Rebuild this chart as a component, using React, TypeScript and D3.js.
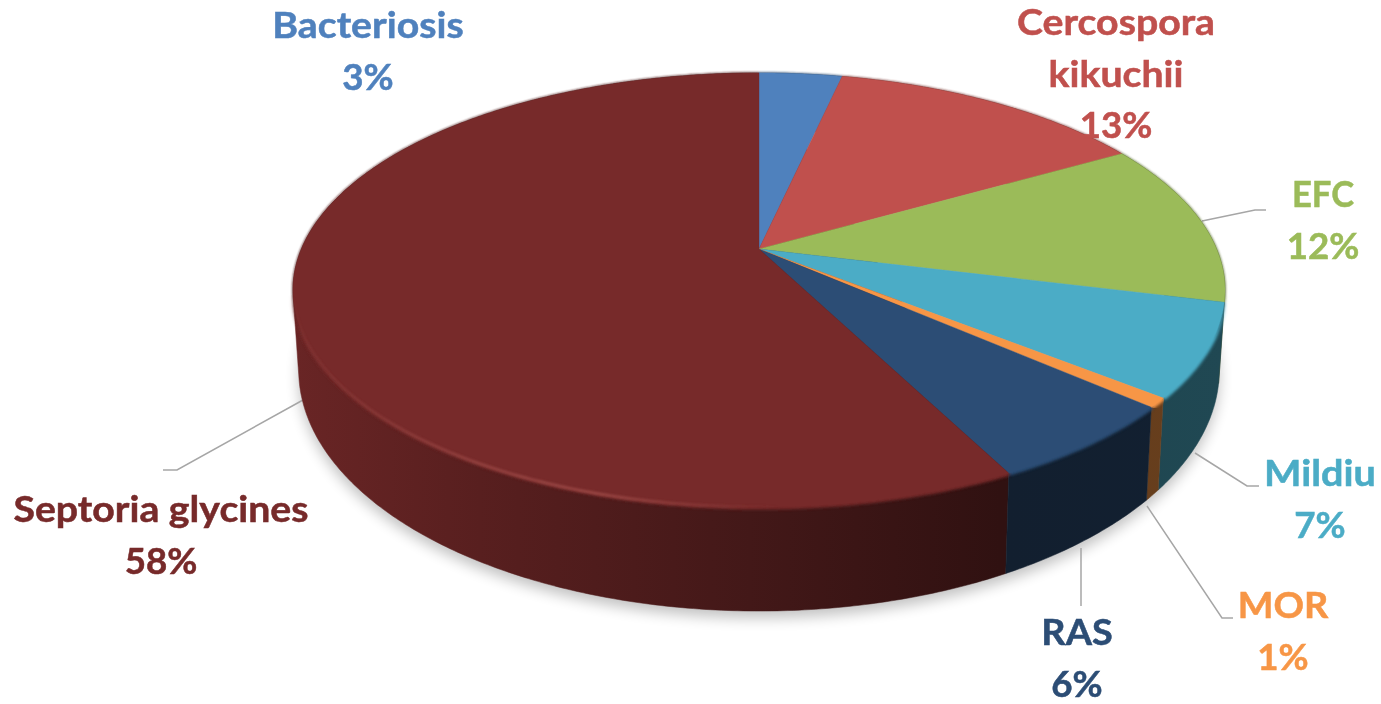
import React from "react";
import * as d3 from "d3";

const names = ["Bacteriosis", "Cercospora kikuchii", "EFC", "Mildiu", "MOR", "RAS", "Septoria glycines"];
const shares = [3.45, 13.25, 12.2, 6.9, 0.7, 6.0, 57.5];
const colours = ["#4f81bd", "#c0504d", "#9bbb59", "#4bacc6", "#f79646", "#2c4d75", "#772a2a"];

const labelLines = [["Bacteriosis"], ["Cercospora", "kikuchii"], ["EFC"], ["Mildiu"], ["MOR"], ["RAS"], ["Septoria glycines"]];

// placement of the annotations (not data)
const labelAnchor = [
  { x: 368, y: 38, sx: 1.09 },
  { x: 1116, y: 35, sx: 1.09 },
  { x: 1323, y: 207, sx: 0.96 },
  { x: 1320, y: 486, sx: 1.1 },
  { x: 1283, y: 618, sx: 1.05 },
  { x: 1077, y: 645.5, sx: 1.05 },
  { x: 161, y: 522, sx: 1.09 },
];
const leaders: ([number, number][] | null)[] = [
  null,
  null,
  [[1202, 221], [1255, 210], [1266, 210]],
  [[1195, 453], [1247, 486], [1259, 486]],
  [[1147, 506], [1222, 618], [1233, 618]],
  [[1081, 548], [1081, 606]],
  [[303, 400], [177, 470], [163, 470]],
];

const W = 1381, H = 704, CX = 759, K = -0.189;
const topFace = { a: 457.6, b: 209.3, c: 249 };
const baseFace = { a: 452, b: 232.4, c: 324.5 };
const project = (f: { a: number; b: number; c: number }, t: number): [number, number] => {
  const x = Math.sin(t), y = -Math.cos(t), d = 1 + K * y;
  return [CX + (f.a * x) / d, f.c + (f.b * y) / d];
};
const arcPoints = (f: any, t0: number, t1: number) => {
  const n = Math.max(2, Math.ceil((t1 - t0) / 0.01));
  return d3.range(n + 1).map((i) => project(f, t0 + ((t1 - t0) * i) / n));
};
const line = d3.line();
const shade = d3.scaleLinear<number>().domain([293, 480, 750, 1000, 1225]).range([0.88, 0.74, 0.56, 0.4, 0.42]);
const darken = (c: string, k: number) => {
  const r = d3.rgb(c);
  return d3.rgb(r.r * k, r.g * k, r.b * k).formatHex();
};

export default function App() {
  const pie = d3.pie<number>().sort(null).startAngle(0).endAngle(2 * Math.PI);
  const arcs = pie(shares);
  const fullBase = line(arcPoints(baseFace, 0, 2 * Math.PI))! + "Z";
  const stopsX = shade.domain();
  const wallOrder = [6, 0, 1, 2, 3, 4, 5];
  return (
    <svg width={W} height={H} viewBox={`0 0 ${W} ${H}`} style={{ position: "absolute", left: 0, top: 0, display: "block", background: "#fff" }}>
      <defs>
        <filter id="shadow" x="-10%" y="-10%" width="120%" height="130%"><feGaussianBlur stdDeviation="7" /></filter>
        <filter id="soft" x="-5%" y="-5%" width="110%" height="110%"><feGaussianBlur stdDeviation="1.6" /></filter>
        <filter id="softer" x="-5%" y="-5%" width="110%" height="110%"><feGaussianBlur stdDeviation="1" /></filter>
        <linearGradient id="frontFade" gradientUnits="userSpaceOnUse" x1="0" y1="295" x2="0" y2="340">
          <stop offset="0" stopColor="#000" />
          <stop offset="1" stopColor="#fff" />
        </linearGradient>
        <mask id="front" maskUnits="userSpaceOnUse" x="0" y="0" width={W} height={H}>
          <rect x="0" y="0" width={W} height={H} fill="url(#frontFade)" />
        </mask>
        <linearGradient id="hi" gradientUnits="userSpaceOnUse" x1="293" y1="0" x2="900" y2="0">
          <stop offset="0" stopColor="#a34f4c" stopOpacity="0.15" />
          <stop offset="0.3" stopColor="#a34f4c" stopOpacity="0.6" />
          <stop offset="0.5" stopColor="#a34f4c" stopOpacity="0.75" />
          <stop offset="0.8" stopColor="#a34f4c" stopOpacity="0" />
          <stop offset="1" stopColor="#a34f4c" stopOpacity="0" />
        </linearGradient>
        {colours.map((c, i) => (
          <linearGradient key={i} id={`wall${i}`} gradientUnits="userSpaceOnUse" x1={stopsX[0]} y1="0" x2={stopsX[stopsX.length - 1]} y2="0">
            {stopsX.map((x) => (
              <stop key={x} offset={(x - stopsX[0]) / (stopsX[stopsX.length - 1] - stopsX[0])} stopColor={darken(c, shade(x))} />
            ))}
          </linearGradient>
        ))}
      </defs>

      <path d={fullBase} fill="#000" opacity={0.24} filter="url(#shadow)" transform="translate(0,7)" />

      {leaders.map((pts, i) => pts && (
        <path key={i} d={line(pts)!} fill="none" stroke="#a6a6a6" strokeWidth={1.5} />
      ))}

      {wallOrder.map((i) => {
        const a = arcs[i];
        const t = arcPoints(topFace, a.startAngle, a.endAngle);
        const b = arcPoints(baseFace, a.startAngle, a.endAngle);
        const hull = d3.polygonHull([...t, ...b] as [number, number][])!;
        return <path key={i} d={line(hull)! + "Z"} fill={`url(#wall${i})`} stroke={`url(#wall${i})`} strokeWidth={0.5} />;
      })}

      <g filter="url(#softer)">
        {arcs.map((a, i) => (
          <path key={i} d={line(arcPoints(topFace, a.startAngle, a.endAngle))!} fill="none" stroke={darken(colours[i], 0.6)} strokeWidth={1.5} />
        ))}
      </g>

      <g mask="url(#front)">
        {arcs.map((a, i) => (
          <path key={i} d={line(arcPoints(topFace, a.startAngle, a.endAngle))!} fill="none" stroke={colours[i]} strokeWidth={5} filter="url(#soft)" />
        ))}
      </g>

      {arcs.map((a, i) => {
        const pts = arcPoints(topFace, a.startAngle, a.endAngle);
        return <path key={i} d={line([[CX, topFace.c], ...pts])! + "Z"} fill={colours[i]} stroke={colours[i]} strokeWidth={0.4} />;
      })}

      <g mask="url(#front)">
        <path d={line(arcPoints(topFace, arcs[6].startAngle, arcs[6].endAngle))!} fill="none" stroke="url(#hi)" strokeWidth={3} filter="url(#softer)" />
      </g>

      <g fontFamily="Lato, 'Noto Sans', sans-serif" fontWeight={700} fontSize={36} textAnchor="middle">
        {names.map((n, i) => {
          const { x, y, sx } = labelAnchor[i];
          const nameLines = labelLines[i];
          const common = { fill: colours[i], stroke: colours[i], strokeWidth: 0.5 };
          return (
            <g key={n}>
              {nameLines.map((l, j) => (
                <text key={j} {...common} y={y + j * 51.7} transform={`translate(${x},0) scale(${sx},1)`}>{l}</text>
              ))}
              <text {...common} y={y + nameLines.length * 51.7} transform={`translate(${x},0) scale(1.02,1)`}>
                {`${d3.format(".0f")(shares[i])}%`}
              </text>
            </g>
          );
        })}
      </g>
    </svg>
  );
}
